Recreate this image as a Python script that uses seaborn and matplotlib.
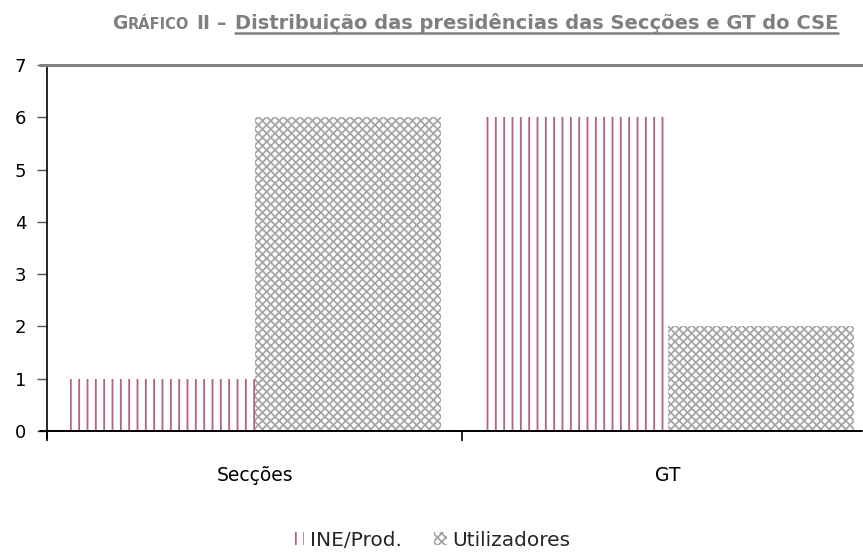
import matplotlib
matplotlib.use("Agg")
import matplotlib.pyplot as plt
import seaborn as sns
import pandas as pd
from matplotlib.patches import Patch
from matplotlib.lines import Line2D

# dados
categorias = ["Secções", "GT"]
series = ["INE/Prod.", "Utilizadores"]
ine_prod = [1, 6]
utilizadores = [6, 2]
yticks = [0, 1, 2, 3, 4, 5, 6, 7]

df = pd.DataFrame({
    "grupo": categorias * 2,
    "serie": [series[0]] * len(categorias) + [series[1]] * len(categorias),
    "valor": ine_prod + utilizadores,
})

sns.set_style("white")
plt.rcParams["font.family"] = ["DejaVu Sans"]
plt.rcParams["hatch.linewidth"] = 1.3

W, H = 863, 553
fig = plt.figure(figsize=(W / 100, H / 100), dpi=100)
ax = fig.add_axes([47 / W, 1 - 431 / H, (862 - 47) / W, (431 - 65) / H])

sns.barplot(data=df, x="grupo", y="valor", hue="serie", order=categorias,
            hue_order=series, width=0.9, ax=ax, legend=False)

cor_ine = (0.60, 0.13, 0.35, 0.72)
cor_util = "#a6a6a6"
estilos = [("||", cor_ine), ("xxxx", cor_util)]
for cont, (hatch, cor) in zip(ax.containers, estilos):
    for bar in cont:
        bar.set_facecolor("white")
        bar.set_edgecolor(cor)
        bar.set_hatch(hatch)
        bar.set_linewidth(0)

ax.set_xlim(-0.505, 1.47)
ax.set_ylim(0, 7)
ax.set_yticks(yticks)
ax.set_xlabel("")
ax.set_ylabel("")

for s in ["top", "right", "left", "bottom"]:
    ax.spines[s].set_visible(False)

# eixos desenhados como linhas (prolongam um pouco para a esquerda)
ax.add_line(Line2D([0, 0], [-0.02, 1], transform=ax.transAxes, color="black", lw=1.2, clip_on=False))
ax.add_line(Line2D([-0.009, 1], [0, 0], transform=ax.transAxes, color="black", lw=1.4, clip_on=False))
ax.add_line(Line2D([-0.009, 1.0], [1, 1], transform=ax.transAxes, color="#808080", lw=2.2, clip_on=False))

ax.tick_params(axis="y", which="major", left=True, length=7, width=1, color="#555555",
               labelsize=13, pad=8, labelcolor="black")
ax.set_xticks([-0.505, 0.5], minor=True)
ax.tick_params(axis="x", which="minor", bottom=True, length=7, width=1.2, color="black")
ax.tick_params(axis="x", which="major", bottom=False, length=0, labelsize=13.5, pad=25,
               labelcolor="black")

# legenda
handles = [Patch(facecolor="white", edgecolor=cor_ine, hatch="||", lw=0),
           Patch(facecolor="white", edgecolor=cor_util, hatch="xxxx", lw=0)]
fig.legend(handles, series, loc="center", bbox_to_anchor=(0.5, 1 - 540 / H), ncol=2,
           frameon=False, fontsize=14.5, handlelength=0.6, handleheight=0.6,
           handletextpad=0.3, columnspacing=1.6, borderpad=0.2)

# titulo com versaletes e sublinhado (montado da direita para a esquerda)
cinza = "#7f7f7f"
fig.canvas.draw()
r = fig.canvas.get_renderer()
x = 838
base = H - 29
# (texto, tamanho, espaco antes)
partes = [("G", 13.5, 0), ("RÁFICO", 10.5, 0), ("II", 13.5, 7), ("–", 13.5, 7),
          ("Distribuição das presidências das Secções e GT do CSE", 14.0, 8)]
for i in range(len(partes) - 1, -1, -1):
    txt, tam, gap = partes[i]
    t = fig.text(x / W, base / H, txt, fontsize=tam, fontweight="bold", color=cinza,
                 ha="right", va="baseline")
    bb = t.get_window_extent(r)
    if i == len(partes) - 1:
        fig.add_artist(Line2D([bb.x0 / W, bb.x1 / W], [1 - 32.5 / H] * 2,
                              transform=fig.transFigure, color=cinza, lw=1.8))
    x = bb.x0 - gap

fig.savefig("out.png", dpi=100)
